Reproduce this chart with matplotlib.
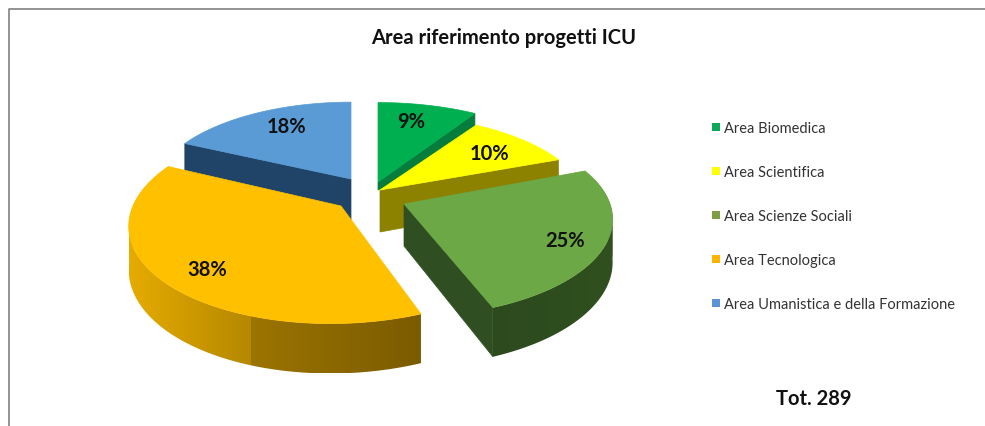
import numpy as np
import matplotlib
matplotlib.use("Agg")
import matplotlib.pyplot as plt
from matplotlib.patches import Polygon, Rectangle
from matplotlib.colors import to_rgb

plt.rcParams['font.family'] = ['Lato', 'DejaVu Sans']

# --- data ---
categories = ["Area Biomedica", "Area Scientifica", "Area Scienze Sociali",
              "Area Tecnologica", "Area Umanistica e della Formazione"]
percent = [9, 10, 25, 38, 18]
title = "Area riferimento progetti ICU"
total_label = "Tot. 289"

# --- styles ---
top_colors = ["#00B050", "#FFFF00", "#6CA845", "#FFC000", "#5B9BD5"]
legend_colors = ["#0FA85A", "#FFFF00", "#7F9F45", "#FFB400", "#5B93D5"]
side_colors = ["#067D3C", "#8C8200", "#2F4F22", "#A07800", "#1F4468"]

# --- layout in image pixels: explosion apex, radii, per-slice shear ---
apex_x = [378, 380, 404, 341, 351]
apex_y = [183, 191, 205, 207, 180]
radius = [205, 203, 206, 208, 196]
ky     = [92, 87, 95, 99, 89]
shear  = [0, 0, 0, 9, 0]
persp = 0.158
depth = 42
label_xy = [(411, 122), (489, 154), (565, 241), (207, 270), (286, 127)]
legend_y = [128, 172, 216, 260, 304]

W, H = 985, 427
fig = plt.figure(figsize=(W / 100, H / 100), dpi=100)
ax = fig.add_axes([0, 0, 1, 1])
ax.axis("off")

edges = np.cumsum([0] + percent) / sum(percent) * 360.0


def project(i, theta):
    t = np.radians(theta)
    X, Y = np.sin(t), np.cos(t)
    f = 1 / (1 + persp * Y)
    return (apex_x[i] + (radius[i] * X + shear[i] * Y) * f,
            apex_y[i] - ky[i] * Y * f, f)


def mix(c1, c2, t):
    a, b = np.array(to_rgb(c1)), np.array(to_rgb(c2))
    return a + (b - a) * t


def outer_wall(i, a0, a1, colorfn, z):
    ts = np.linspace(a0, a1, 140)
    p = [project(i, t) for t in ts]
    pts = [(x, y) for x, y, _ in p] + [(x, y + depth * f) for x, y, f in reversed(p)]
    poly = Polygon(pts, closed=True, fc="none", ec="none", zorder=z)
    ax.add_patch(poly)
    x_lo = min(q[0] for q in pts)
    x_hi = max(q[0] for q in pts)
    y_lo = min(q[1] for q in pts)
    y_hi = max(q[1] for q in pts)
    xs = np.linspace(x_lo, x_hi, 400)
    grad = np.array([[colorfn(x) for x in xs]])
    im = ax.imshow(grad, extent=(x_lo, x_hi, y_hi, y_lo), aspect="auto",
                   interpolation="nearest", zorder=z)
    im.set_clip_path(poly)


def radial_wall(i, theta, z, apex_depth=depth):
    x, y, f = project(i, theta)
    ax0, ay0 = apex_x[i], apex_y[i]
    ax.add_patch(Polygon([(ax0, ay0), (x, y), (x, y + depth * f), (ax0, ay0 + apex_depth)],
                         closed=True, fc=side_colors[i], ec=side_colors[i], lw=0.5, zorder=z))


def top_face(i, z):
    ts = np.linspace(edges[i], edges[i + 1], 100)
    pts = [(apex_x[i], apex_y[i])] + [project(i, t)[:2] for t in ts]
    ax.add_patch(Polygon(pts, closed=True, fc=top_colors[i], ec=top_colors[i], lw=0.5, zorder=z))


def orange_shade(x):
    if x < 250:
        return mix("#E6AB00", "#B58800", np.clip((x - 130) / 120, 0, 1))
    return mix("#9C7400", "#7A5B00", (x - 250) / 171)


def green_shade(x):
    return mix("#2C4A1E", "#30501F", np.clip((x - 490) / 120, 0, 1))


# back to front
radial_wall(4, edges[4], 1)
top_face(4, 2)
radial_wall(0, edges[1], 3, apex_depth=8)
top_face(0, 4)
radial_wall(1, edges[2], 5)
top_face(1, 6)
radial_wall(2, edges[3], 7)
outer_wall(2, 97, edges[3], green_shade, 7)
outer_wall(2, 75, 97, green_shade, 7)
top_face(2, 8)
outer_wall(3, edges[3], 262, orange_shade, 9)
outer_wall(3, 262, 292, orange_shade, 9)
top_face(3, 10)

for (x, y), p in zip(label_xy, percent):
    ax.text(x, y, f"{p}%", ha="center", va="center", fontsize=14.5,
            fontweight="bold", color="#111111", zorder=20)

ax.text(504, 38, title, ha="center", va="center", fontsize=14.5,
        fontweight="bold", color="#111111")
ax.text(814, 399, total_label, ha="center", va="center", fontsize=14.5,
        fontweight="bold", color="#111111")

for name, col, y in zip(categories, legend_colors, legend_y):
    ax.add_patch(Rectangle((712, y - 4), 8, 8, fc=col, ec="none"))
    ax.text(724, y + 1, name, ha="left", va="center", fontsize=10.5, color="#333333")

# frame
ax.plot([8.5, 8.5, W], [H, 9.5, 9.5], color="#808080", lw=1.2, solid_capstyle="butt")

ax.set_xlim(0, W)
ax.set_ylim(H, 0)
fig.savefig("out.png", dpi=100, facecolor="white")
